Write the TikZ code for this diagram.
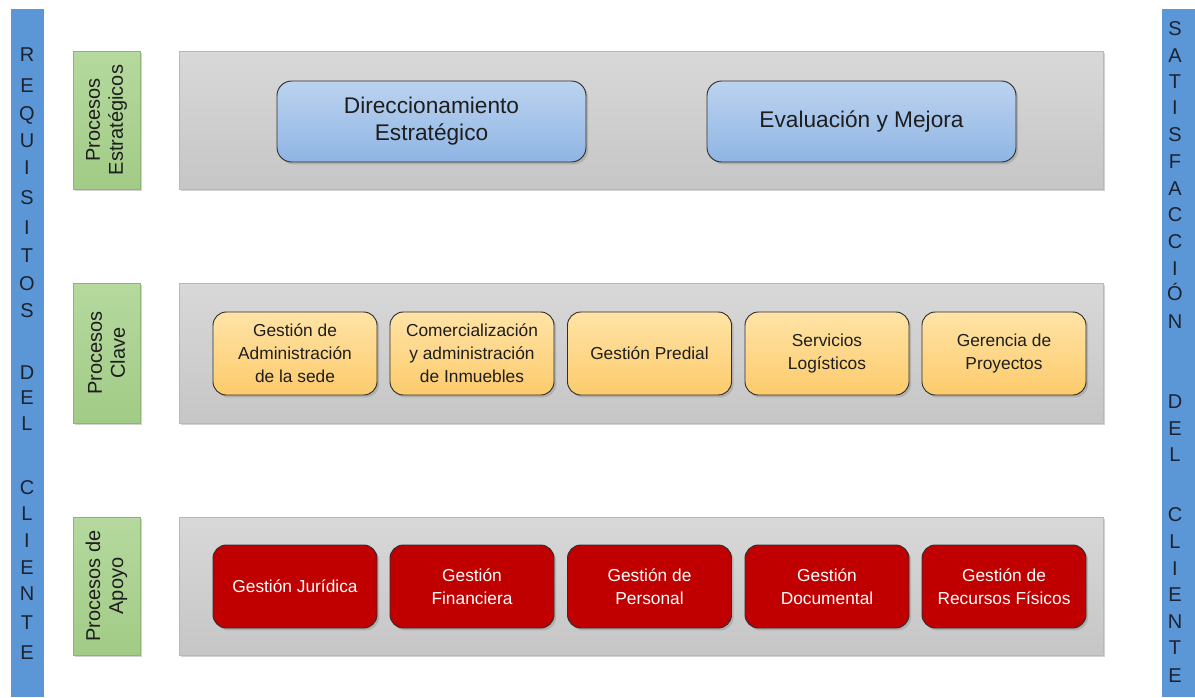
\documentclass[tikz,border=0pt]{standalone}
\usepackage{fontspec}
\setmainfont{Liberation Sans}
\usetikzlibrary{shadows}
\definecolor{barblue}{HTML}{5B97D6}
\definecolor{lettercol}{HTML}{1C2230}
\definecolor{panelTop}{HTML}{D8D8D8}
\definecolor{panelBot}{HTML}{C6C6C6}
\definecolor{panelBorder}{HTML}{B8B8B8}
\definecolor{greenTop}{HTML}{B5D99E}
\definecolor{greenBot}{HTML}{A1CB86}
\definecolor{greenBorder}{HTML}{8CB472}
\definecolor{blueTop}{HTML}{BCD3EF}
\definecolor{blueBot}{HTML}{8FB5E4}
\definecolor{orangeTop}{HTML}{FFE3A6}
\definecolor{orangeBot}{HTML}{FCCB6C}
\definecolor{redFill}{HTML}{C00000}
\definecolor{boxBorder}{HTML}{2E2E2E}
\definecolor{textDark}{HTML}{1E1E1E}
\begin{document}
\begin{tikzpicture}[x=0.75pt,y=-0.75pt,
  shad/.style={drop shadow={shadow xshift=1.6pt,shadow yshift=-1.8pt,opacity=0.35}},
  sidebar/.style={fill=barblue,draw=none,minimum width=25pt,minimum height=516pt,inner sep=0pt},
  barletter/.style={text=lettercol,font=\fontsize{15}{15}\selectfont,inner sep=0pt,text height=10.7pt,text depth=0pt},
  panel/.style={shad,draw=panelBorder,line width=0.5pt,top color=panelTop,bottom color=panelBot,minimum width=693pt,inner sep=0pt},
  levelbox/.style={shad,draw=greenBorder,line width=0.6pt,top color=greenTop,bottom color=greenBot,minimum width=50.25pt,inner sep=0pt},
  leveltext/.style={text=textDark,font=\fontsize{15}{17.25}\selectfont,align=center,rotate=90,inner sep=0pt},
  stratbox/.style={shad,draw=boxBorder,line width=0.7pt,rounded corners=11pt,top color=blueTop,bottom color=blueBot,
    minimum width=231.75pt,minimum height=60.75pt,inner sep=0pt,text=textDark,font=\fontsize{17}{20.25}\selectfont,align=center},
  keybox/.style={shad,draw=boxBorder,line width=0.7pt,rounded corners=10pt,top color=orangeTop,bottom color=orangeBot,
    minimum width=123pt,minimum height=62.25pt,inner sep=0pt,text=textDark,font=\fontsize{13}{17.25}\selectfont,align=center},
  supbox/.style={shad,draw=boxBorder,line width=0.7pt,rounded corners=10pt,fill=redFill,
    minimum width=123pt,minimum height=62.25pt,inner sep=0pt,text=white,font=\fontsize{13}{17.25}\selectfont,align=center}
]
\useasboundingbox[fill=white] (0,0) rectangle (1195,697);

% side bars
\node[sidebar] (leftbar) at (27.5,353) {};
\node[sidebar] (rightbar) at (1178.5,353) {};
\foreach \l/\yy [count=\i] in {R/54,E/85,Q/113,U/140,I/167,S/197,I/227,T/255,O/283,S/310,D/372,E/397,L/423,C/487,L/513,I/540,E/567,N/593,T/622,E/652}
  \node[barletter] (L\i) at (27,\yy) {\l};
\foreach \l/\yy [count=\i] in {S/28,A/55,T/81,I/107,S/134,F/161,A/188,C/214,C/241,I/268,Ó/293,N/321,D/401,E/428,L/454,C/514,L/541,I/568,E/594,N/621,T/647,E/675}
  \node[barletter] (R\i) at (1175,\yy) {\l};

% panels
\node[panel,minimum height=103.5pt] (p1) at (641,120) {};
\node[panel,minimum height=105pt] (p2) at (641,353) {};
\node[panel,minimum height=103.5pt] (p3) at (641,586) {};

% level labels
\node[levelbox,minimum height=103.5pt] (g1) at (106.5,120) {};
\node[leveltext] (g1t) at (g1.center) {Procesos\\Estratégicos};
\node[levelbox,minimum height=105pt] (g2) at (106.5,353) {};
\node[leveltext] (g2t) at (g2.center) {Procesos\\Clave};
\node[levelbox,minimum height=103.5pt] (g3) at (106.5,586) {};
\node[leveltext] (g3t) at (g3.center) {Procesos de\\Apoyo};

% strategic
\node[stratbox] (s1) at (431.5,121.5) {Direccionamiento\\Estratégico};
\node[stratbox] (s2) at (861.5,121.5) {Evaluación y Mejora};

% key
\node[keybox] (k1) at (295,353.5) {Gestión de\\Administración\\de la sede};
\node[keybox] (k2) at (472,353.5) {Comercialización\\y administración\\de Inmuebles};
\node[keybox] (k3) at (649.5,353.5) {Gestión Predial};
\node[keybox] (k4) at (827,353.5) {Servicios\\Logísticos};
\node[keybox] (k5) at (1004,353.5) {Gerencia de\\Proyectos};

% support
\node[supbox] (a1) at (295,586.5) {Gestión Jurídica};
\node[supbox] (a2) at (472,586.5) {Gestión\\Financiera};
\node[supbox] (a3) at (649.5,586.5) {Gestión de\\Personal};
\node[supbox] (a4) at (827,586.5) {Gestión\\Documental};
\node[supbox] (a5) at (1004,586.5) {Gestión de\\Recursos Físicos};
\end{tikzpicture}
\end{document}
